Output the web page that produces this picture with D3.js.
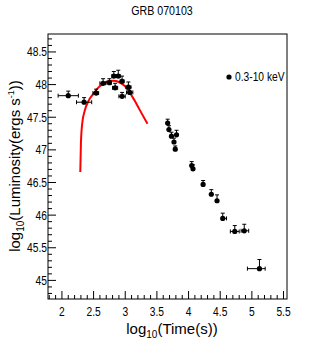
<!DOCTYPE html>
<html lang="en">
<head>
<meta charset="UTF-8">
<title>GRB 070103</title>
<script src="https://d3js.org/d3.v7.min.js"></script>
<style>
  body { margin: 0; background: #fff; }
  svg { display: block; }
  .tick-label { font-family: "Liberation Sans Narrow", "Liberation Sans", Arial, sans-serif; font-size: 12.5px; fill: #000; }
  .axis-title { font-family: "Liberation Sans", Arial, sans-serif; font-size: 15px; fill: #000; }
</style>
</head>
<body>
<svg id="chart" width="319" height="354"></svg>
<script>
  // log10(time) and log10(luminosity) for the 0.3-10 keV points
  const logT   = [2.10, 2.35, 2.54, 2.65, 2.75, 2.82, 2.84, 2.89, 2.95, 2.95, 3.05, 3.07,
                  3.67, 3.69, 3.73, 3.81, 3.77, 3.79, 4.05, 4.07, 4.23, 4.36, 4.45, 4.54, 4.73, 4.88, 5.12];
  const logL   = [47.83, 47.73, 47.87, 48.02, 48.03, 48.13, 47.95, 48.13, 48.05, 47.82, 47.96, 47.88,
                  47.41, 47.31, 47.21, 47.23, 47.12, 47.01, 46.76, 46.71, 46.47, 46.32, 46.22, 45.95, 45.75, 45.76, 45.18];
  const tLo    = [1.94, 2.23, 2.49, 2.60, 2.71, 2.79, 2.80, 2.86, 2.92, 2.90, 3.01, 3.02,
                  3.67, 3.69, 3.73, 3.81, 3.77, 3.79, 4.05, 4.07, 4.23, 4.36, 4.45, 4.54, 4.66, 4.83, 4.93];
  const tHi    = [2.26, 2.47, 2.58, 2.69, 2.78, 2.85, 2.88, 2.92, 2.98, 3.00, 3.09, 3.12,
                  3.67, 3.69, 3.73, 3.81, 3.77, 3.79, 4.05, 4.07, 4.23, 4.36, 4.45, 4.60, 4.80, 4.95, 5.21];
  const lErrUp = [0.07, 0.07, 0.06, 0.07, 0.06, 0.07, 0.07, 0.09, 0.08, 0.06, 0.08, 0.08,
                  0.06, 0.06, 0.06, 0.07, 0.06, 0.05, 0.06, 0.06, 0.06, 0.07, 0.09, 0.08, 0.09, 0.10, 0.14];

  // red model curve
  const curveT = [2.29, 2.30, 2.32, 2.36, 2.42, 2.49, 2.57, 2.65, 2.73, 2.81, 2.90, 2.99, 3.09, 3.18, 3.27, 3.35];
  const curveL = [46.66, 47.10, 47.40, 47.60, 47.75, 47.85, 47.95, 48.01, 48.05, 48.06, 48.04, 47.98, 47.85, 47.70, 47.54, 47.40];

  const xTicks = [2, 2.5, 3, 3.5, 4, 4.5, 5, 5.5];
  const yTicks = [45, 45.5, 46, 46.5, 47, 47.5, 48, 48.5];

  const svg = d3.select("#chart");
  const padL = 48, padR = 287, padT = 34, padB = 299;
  const narrow = 0.82; // horizontal squeeze to mimic the condensed ROOT font

  const x = d3.scaleLinear().domain([1.78, 5.555]).range([padL, padR]);
  const y = d3.scaleLinear().domain([44.715, 48.775]).range([padB, padT]);

  // frame
  svg.append("rect")
    .attr("x", padL).attr("y", padT)
    .attr("width", padR - padL).attr("height", padB - padT)
    .attr("fill", "none").attr("stroke", "#000").attr("stroke-width", 1);

  // minor + major ticks, pointing inward
  const isMajor = d => Math.abs(d * 2 - Math.round(d * 2)) < 1e-6;
  const xMinor = d3.range(18, 56).map(d => d / 10);
  svg.append("g").selectAll("line").data(xMinor).join("line")
    .attr("x1", d => x(d)).attr("x2", d => x(d))
    .attr("y1", padB).attr("y2", d => isMajor(d) ? padB - 8 : padB - 4)
    .attr("stroke", "#000");

  const yMinor = d3.range(448, 488).map(d => d / 10);
  svg.append("g").selectAll("line").data(yMinor).join("line")
    .attr("y1", d => y(d)).attr("y2", d => y(d))
    .attr("x1", padL).attr("x2", d => isMajor(d) ? padL + 8 : padL + 4)
    .attr("stroke", "#000");

  svg.append("g").selectAll("text").data(xTicks).join("text")
    .attr("class", "tick-label")
    .attr("transform", d => `translate(${x(d)},${padB + 17}) scale(${narrow},1)`)
    .attr("text-anchor", "middle")
    .text(d => d);

  svg.append("g").selectAll("text").data(yTicks).join("text")
    .attr("class", "tick-label")
    .attr("transform", d => `translate(${padL - 1},${y(d) + 4.5}) scale(${narrow},1)`)
    .attr("text-anchor", "end")
    .text(d => d);

  // axis titles
  const xt = svg.append("text").attr("class", "axis-title")
    .attr("x", 172).attr("y", 334).attr("text-anchor", "middle");
  xt.append("tspan").text("log");
  xt.append("tspan").attr("dy", 4).attr("font-size", 10).text("10");
  xt.append("tspan").attr("dy", -4).text("(Time(s))");

  const yt = svg.append("text").attr("class", "axis-title")
    .attr("transform", "translate(20,166) rotate(-90)").attr("text-anchor", "middle");
  yt.append("tspan").text("log");
  yt.append("tspan").attr("dy", 4).attr("font-size", 10).text("10");
  yt.append("tspan").attr("dy", -4).text("(Luminosity(ergs s");
  yt.append("tspan").attr("dy", -6).attr("font-size", 9).text("-1");
  yt.append("tspan").attr("dy", 6).text("))");

  // title
  svg.append("text")
    .attr("transform", `translate(162,15) scale(${narrow},1)`).attr("text-anchor", "middle")
    .attr("font-family", "'Liberation Sans Narrow', 'Liberation Sans', Arial, sans-serif")
    .attr("font-size", 13)
    .text("GRB 070103");

  // red curve
  const line = d3.line().x(d => x(d[0])).y(d => y(d[1])).curve(d3.curveMonotoneX);
  svg.append("path")
    .datum(curveT.map((t, i) => [t, curveL[i]]))
    .attr("d", line)
    .attr("fill", "none").attr("stroke", "#ff0000").attr("stroke-width", 2);

  // data points with error bars
  const pts = logT.map((t, i) => ({ t, l: logL[i], lo: tLo[i], hi: tHi[i], up: lErrUp[i] }));
  const withX = pts.filter(d => d.hi - d.lo > 0.01);
  const g = svg.append("g");
  g.selectAll("line.xerr").data(withX).join("line")
    .attr("class", "xerr")
    .attr("x1", d => x(d.lo)).attr("x2", d => x(d.hi))
    .attr("y1", d => y(d.l)).attr("y2", d => y(d.l))
    .attr("stroke", "#000").attr("stroke-width", 1);
  g.selectAll("line.xcap").data(withX.flatMap(d => [{ v: d.lo, l: d.l }, { v: d.hi, l: d.l }])).join("line")
    .attr("class", "xcap")
    .attr("x1", d => x(d.v)).attr("x2", d => x(d.v))
    .attr("y1", d => y(d.l) - 2).attr("y2", d => y(d.l) + 2)
    .attr("stroke", "#000");
  g.selectAll("line.yerr").data(pts).join("line")
    .attr("class", "yerr")
    .attr("x1", d => x(d.t)).attr("x2", d => x(d.t))
    .attr("y1", d => y(d.l + d.up)).attr("y2", d => y(d.l))
    .attr("stroke", "#000").attr("stroke-width", 1);
  g.selectAll("line.ycap").data(pts).join("line")
    .attr("class", "ycap")
    .attr("x1", d => x(d.t) - 2).attr("x2", d => x(d.t) + 2)
    .attr("y1", d => y(d.l + d.up)).attr("y2", d => y(d.l + d.up))
    .attr("stroke", "#000");
  g.selectAll("circle").data(pts).join("circle")
    .attr("cx", d => x(d.t)).attr("cy", d => y(d.l)).attr("r", 2.6)
    .attr("fill", "#000");

  // legend
  svg.append("circle").attr("cx", 229).attr("cy", 77).attr("r", 2.6).attr("fill", "#000");
  svg.append("text")
    .attr("transform", `translate(235,81) scale(${narrow},1)`)
    .attr("font-family", "'Liberation Sans Narrow', 'Liberation Sans', Arial, sans-serif")
    .attr("font-size", 12.5)
    .text("0.3-10 keV");
</script>
</body>
</html>
